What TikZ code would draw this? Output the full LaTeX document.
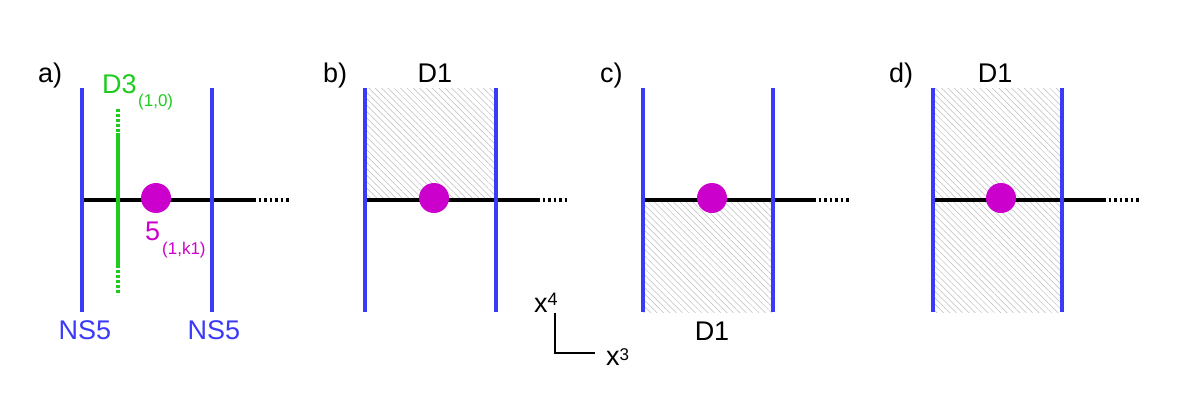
\documentclass[tikz,border=0pt]{standalone}
\usepackage{fontspec}
\setmainfont{Liberation Sans}
\usepackage{tikz}
\usetikzlibrary{patterns.meta,positioning}
\definecolor{cNS}{HTML}{3A3AF8}
\definecolor{cDthree}{HTML}{1ECB1E}
\definecolor{cFive}{HTML}{CC00CC}
\definecolor{cHatch}{HTML}{BCBCBC}
\tikzset{
  ns/.style={draw=cNS,line width=4pt},
  dthree/.style={draw=cDthree,line width=4pt},
  dtdots/.style={dthree,dash pattern=on 2.5pt off 2.5pt},
  dfive/.style={draw=black,line width=4pt},
  dfdots/.style={dfive,dash pattern=on 2.5pt off 3pt},
  fivedot/.style={circle,fill=cFive,minimum size=30pt,inner sep=0pt},
  dhatch/.style={pattern={Lines[angle=-45,distance=4.5pt,line width=0.5pt]},pattern color=cHatch},
  big/.style={font=\fontsize{27}{27}\selectfont,inner sep=0pt},
  small/.style={font=\fontsize{17}{17}\selectfont,inner sep=0pt},
  axis/.style={draw=black,line width=1.2pt},
}

\begin{document}
\begin{tikzpicture}[x=1pt,y=-1pt]
    \useasboundingbox (0,0) rectangle (1182,413);
    % a) NS5 -- D3 -- NS5 with the (1,k1) fivebrane
    \node[big,anchor=base west] (la) at (38,82) {a)};
    \draw[dfive] (82,200) -- (253,200);
    \draw[dfdots] (253,200) -- (289,200);
    \draw[dtdots] (118,109) -- (118,133);
    \draw[dthree] (118,133) -- (118,265);
    \draw[dtdots] (118,265) -- (118,295);
    \draw[ns] (82,88) -- (82,312);
    \draw[ns] (212,88) -- (212,312);
    \node[fivedot] (pa) at (156,198) {};
    \node[big,anchor=base west,text=cDthree] (dthr) at (102,93) {D3};
    \node[small,anchor=base west,text=cDthree] (dthrsub) at (138,106) {(1,0)};
    \node[big,anchor=base west,text=cFive] (five) at (145,240) {5};
    \node[small,anchor=base west,text=cFive] (fivesub) at (162,254) {(1,k1)};
    \node[big,anchor=base,text=cNS] (nsl) at (85,339) {NS5};
    \node[big,anchor=base,text=cNS] (nsr) at (214,339) {NS5};

    % b) D1 above
    \node[big,anchor=base west] (lb) at (323,82) {b)};
    \fill[dhatch] (365,88) rectangle (496,200);
    \draw[dfive] (365,200) -- (537,200);
    \draw[dfdots] (537,200) -- (569,200);
    \draw[ns] (365,88) -- (365,312);
    \draw[ns] (496,88) -- (496,312);
    \node[fivedot] (pb) at (434,198) {};
    \node[big,anchor=base] (dob) at (435,82) {D1};

    % axes
    \coordinate (axup) at (555,313);
    \coordinate (axrt) at (595,353);
    \draw[axis] (axup) |- (axrt);
    \node[big,anchor=base west] (xfour) at (534,312) {x\raisebox{7pt}{\fontsize{18}{18}\selectfont 4}};
    \node[big,anchor=base west] (xthree) at (606,365) {x\raisebox{5pt}{\fontsize{17}{17}\selectfont 3}};

    % c) D1 below
    \node[big,anchor=base west] (lc) at (600,82) {c)};
    \fill[dhatch] (643,200) rectangle (773,312);
    \draw[dfive] (643,200) -- (813,200);
    \draw[dfdots] (813,200) -- (850,200);
    \draw[ns] (643,88) -- (643,312);
    \draw[ns] (773,88) -- (773,312);
    \node[fivedot] (pc) at (712,198) {};
    \node[big,anchor=base] (doc) at (712,340) {D1};

    % d) D1 on both sides
    \node[big,anchor=base west] (ld) at (889,82) {d)};
    \fill[dhatch] (933,88) rectangle (1062,312);
    \draw[dfive] (933,200) -- (1103,200);
    \draw[dfdots] (1103,200) -- (1139,200);
    \draw[ns] (933,88) -- (933,312);
    \draw[ns] (1062,88) -- (1062,312);
    \node[fivedot] (pd) at (1001,198) {};
    \node[big,anchor=base] (dod) at (995,82) {D1};
\end{tikzpicture}
\end{document}
